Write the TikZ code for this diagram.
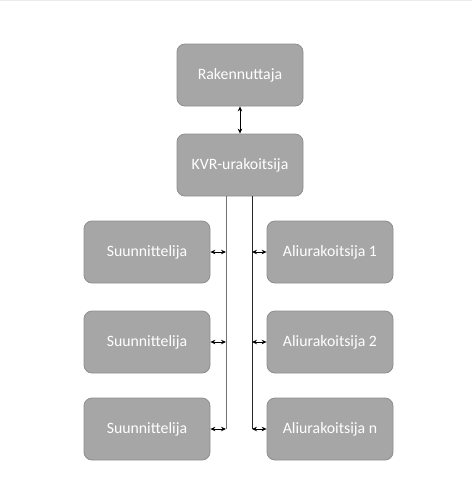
\documentclass[tikz,border=0pt]{standalone}
\usepackage{fontspec}
\setmainfont{Carlito}
\usetikzlibrary{arrows.meta}
\definecolor{boxfill}{HTML}{A6A6A6}
\definecolor{boxline}{HTML}{8E8E8E}
\tikzset{
  orgbox/.style={draw=boxline, fill=boxfill, line width=0.8pt, rounded corners=8pt,
    minimum width=126pt, minimum height=62pt, inner sep=0pt, text=white,
    font=\fontsize{15.8}{18}\selectfont},
  link/.style={line width=0.9pt, {Stealth[length=5pt,width=4.5pt]}-{Stealth[length=5pt,width=4.5pt]}},
  trunk/.style={line width=0.9pt}
}
\begin{document}
\begin{tikzpicture}[x=1pt,y=-1pt]
\useasboundingbox (0,0) rectangle (472,491);
\draw[color=black!8, line width=1.5pt] (0,0.5) -- (472,0.5);
\node[orgbox] (rak) at (240,75) {Rakennuttaja};
\node[orgbox] (kvr) at (240,165) {KVR-urakoitsija};
\node[orgbox] (s1) at (147,252) {Suunnittelija};
\node[orgbox] (s2) at (147,342) {Suunnittelija};
\node[orgbox] (s3) at (147,429) {Suunnittelija};
\node[orgbox] (a1) at (330,252) {Aliurakoitsija 1};
\node[orgbox] (a2) at (330,342) {Aliurakoitsija 2};
\node[orgbox] (a3) at (330,429) {Aliurakoitsija n};
\draw[link] (rak.south) -- (kvr.north);
\coordinate (lt) at (226,196);
\coordinate (lb) at (226,429);
\coordinate (rt) at (252,196);
\coordinate (rb) at (252,429);
\draw[trunk, draw=black!55] (lt) -- (lb);
\draw[trunk, draw=black!85] (rt) -- (rb);
\draw[link] (s1.east) -- (s1.east -| lt);
\draw[link] (s2.east) -- (s2.east -| lt);
\draw[link] (s3.east) -- (s3.east -| lt);
\draw[link] (a1.west -| rt) -- (a1.west);
\draw[link] (a2.west -| rt) -- (a2.west);
\draw[link] (a3.west -| rt) -- (a3.west);
\end{tikzpicture}
\end{document}
